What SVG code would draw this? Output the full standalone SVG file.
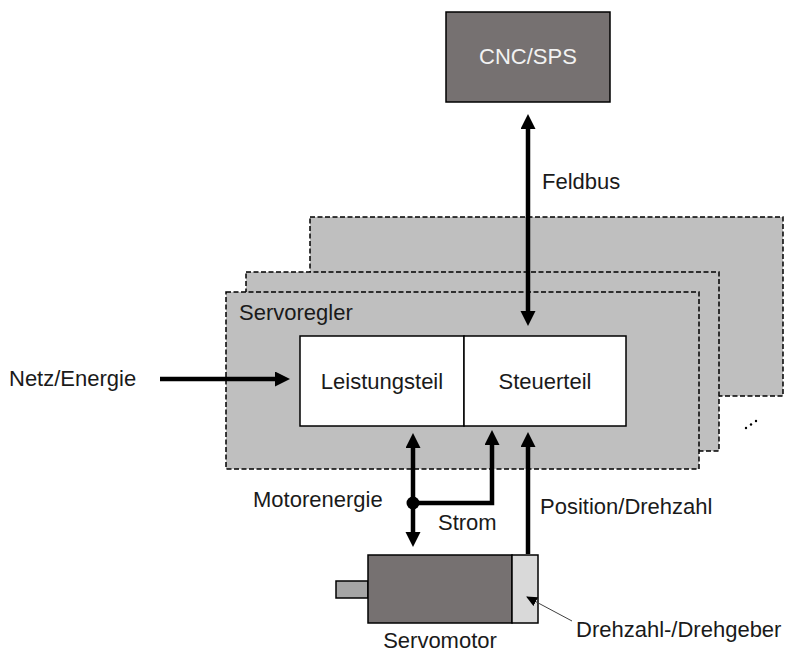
<svg xmlns="http://www.w3.org/2000/svg" width="787" height="653" viewBox="0 0 787 653">
  <style>
    text { font-family: "Liberation Sans", Arial, sans-serif; font-size: 22px; fill: #1a1a1a; }
    .stack { fill: #bfbfbf; stroke: #000; stroke-width: 1.5; stroke-dasharray: 5 2.5; }
    .box { fill: #fff; stroke: #000; stroke-width: 1.5; }
    .flow { fill: none; stroke: #000; stroke-width: 4.5; }
    .thin { fill: none; stroke: #404040; stroke-width: 1; }
  </style>
  <defs>
    <marker id="head" markerUnits="userSpaceOnUse" markerWidth="16" markerHeight="16" refX="0" refY="7.5" orient="auto-start-reverse">
      <path d="M0,0 L15,7.5 L0,15 Z" fill="#000"/>
    </marker>
    <marker id="small" markerUnits="userSpaceOnUse" markerWidth="12" markerHeight="12" refX="10" refY="5" orient="auto">
      <path d="M0,0 L11,5 L0,10 Z" fill="#000"/>
    </marker>
  </defs>

  <!-- Controller unit with further units stacked behind it -->
  <g id="servoregler-stack">
    <rect class="stack" x="310" y="217" width="473" height="179"/>
    <rect class="stack" x="246" y="272" width="473" height="179"/>
  </g>
  <g id="servoregler">
    <rect class="stack" x="226" y="292" width="473" height="177"/>
    <text x="239" y="320">Servoregler</text>
  </g>
  <g id="more-units">
    <circle cx="746" cy="428" r="1.2" fill="#000"/>
    <circle cx="751" cy="424.5" r="1.2" fill="#000"/>
    <circle cx="756" cy="421" r="1.2" fill="#000"/>
  </g>

  <g id="leistungsteil">
    <rect class="box" x="300" y="336" width="164" height="90"/>
    <text x="382" y="389" text-anchor="middle">Leistungsteil</text>
  </g>
  <g id="steuerteil">
    <rect class="box" x="464" y="336" width="162" height="90"/>
    <text x="545" y="389" text-anchor="middle">Steuerteil</text>
  </g>

  <g id="cnc-sps">
    <rect x="446" y="12" width="164" height="90" fill="#767171" stroke="#000" stroke-width="1.5"/>
    <text x="528" y="64" text-anchor="middle" font-size="20" style="fill:#f2f2f2">CNC/SPS</text>
  </g>

  <g id="servomotor">
    <rect x="336" y="581" width="32" height="17" fill="#a5a5a5" stroke="#000" stroke-width="1.5"/>
    <rect x="368" y="555" width="144" height="68" fill="#767171" stroke="#000" stroke-width="1.5"/>
    <text x="440" y="648" text-anchor="middle">Servomotor</text>
  </g>
  <g id="drehgeber">
    <rect x="512" y="555" width="26" height="68" fill="#d9d9d9" stroke="#000" stroke-width="1.5"/>
    <text x="576" y="637">Drehzahl-/Drehgeber</text>
  </g>

  <g id="connectors">
    <!-- Feldbus -->
    <line class="flow" x1="528" y1="129" x2="528" y2="311" marker-start="url(#head)" marker-end="url(#head)"/>
    <text x="542" y="189">Feldbus</text>
    <!-- Netz/Energie -->
    <line class="flow" x1="160" y1="379" x2="275" y2="379" marker-end="url(#head)"/>
    <text x="9" y="386">Netz/Energie</text>
    <!-- Motorenergie -->
    <line class="flow" x1="413" y1="448" x2="413" y2="532" marker-start="url(#head)" marker-end="url(#head)"/>
    <circle cx="413" cy="503" r="6.5" fill="#000"/>
    <text x="253" y="507">Motorenergie</text>
    <!-- Strom -->
    <polyline class="flow" points="413,503 492,503 492,445" marker-end="url(#head)"/>
    <text x="438" y="530">Strom</text>
    <!-- Position/Drehzahl -->
    <line class="flow" x1="528" y1="554" x2="528" y2="447" marker-end="url(#head)"/>
    <text x="540" y="514">Position/Drehzahl</text>
    <!-- Drehgeber callout -->
    <line class="thin" x1="572" y1="621" x2="527" y2="597" marker-end="url(#small)"/>
  </g>
</svg>
